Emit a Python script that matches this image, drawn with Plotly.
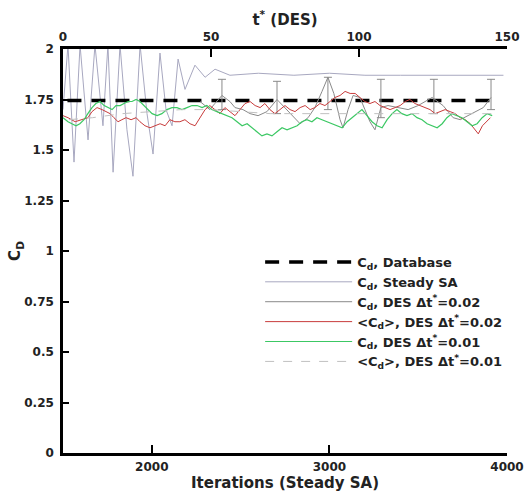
import plotly.graph_objects as go

# ---------------- data ----------------
# Database value (constant)
db_t = [1.5, 147]
db_cd = [1.745, 1.745]

# Steady SA (vs iterations)
sa_it = [1500, 1528, 1562, 1596, 1641, 1680, 1725, 1753, 1782, 1821, 1860, 1894,
         1934, 1973, 2007, 2046, 2080, 2114, 2148, 2187, 2243, 2300, 2356, 2440,
         2600, 2800, 3000, 3200, 3400, 3600, 3800, 3980]
sa_cd = [1.70, 2.02, 1.44, 2.02, 1.55, 2.02, 1.62, 2.02, 1.39, 2.02, 1.60, 1.37,
         2.02, 1.68, 1.48, 1.98, 1.70, 1.62, 1.95, 1.80, 1.92, 1.86, 1.90, 1.87,
         1.88, 1.87, 1.88, 1.87, 1.87, 1.87, 1.87, 1.87]

# C_d, DES dt*=0.02 (grey, with error bars)  -- vs t*
g_t = [46.3, 48.0, 49.6, 51.3, 53.7, 56.4, 58.1, 60.8, 63.2, 65.9, 68.9, 72.3,
       75.0, 77.4, 80.1, 82.8, 85.1, 87.5, 89.5, 91.5, 93.6, 94.6, 96.3, 98.0,
       100.3, 102.0, 103.7, 105.4, 107.4, 109.8, 113.2, 116.6, 120.0, 124.7,
       128.4, 131.8, 134.2, 136.9, 139.6, 142.0, 144.6]
g_cd = [1.74, 1.72, 1.70, 1.73, 1.77, 1.74, 1.71, 1.70, 1.68, 1.67, 1.69, 1.75,
        1.71, 1.67, 1.63, 1.66, 1.71, 1.79, 1.86, 1.78, 1.65, 1.61, 1.70, 1.77,
        1.76, 1.70, 1.64, 1.60, 1.71, 1.72, 1.71, 1.70, 1.72, 1.76, 1.72, 1.66,
        1.65, 1.67, 1.69, 1.71, 1.76]

# error bars on the DES dt*=0.02 signal
err_t = [53.7, 72.3, 89.5, 107.4, 125.3, 144.6]
err_hi = [1.85, 1.84, 1.86, 1.85, 1.85, 1.85]
err_lo = [1.70, 1.68, 1.70, 1.66, 1.68, 1.70]

# <C_d>, DES dt*=0.02 (red)
r_t = [0.0, 1.7, 4.1, 6.4, 8.4, 9.8, 11.5, 13.2, 14.5, 15.9, 17.2, 18.6, 19.9,
       21.3, 23.0, 24.7, 26.0, 27.7, 29.4, 31.1, 32.8, 34.5, 36.1, 37.8, 39.5,
       41.2, 42.9, 44.6, 46.3, 48.0, 49.6, 51.3, 53.0, 54.7, 56.4, 58.1, 59.8,
       61.5, 63.2, 64.9, 66.6, 68.2, 69.9, 71.6, 73.3, 75.0, 76.7, 78.4, 80.1,
       81.8, 83.5, 85.1, 86.8, 88.5, 90.2, 91.9, 93.6, 95.3, 97.0, 98.7, 100.3,
       102.0, 103.7, 105.4, 107.1, 108.8, 110.5, 112.2, 113.9, 115.6, 117.2,
       118.9, 120.6, 122.3, 124.0, 125.7, 127.4, 129.1, 130.8, 132.5, 134.2,
       135.9, 137.6, 139.3, 140.3, 141.7, 143.0, 144.4]
r_cd = [1.67, 1.66, 1.64, 1.65, 1.66, 1.69, 1.71, 1.70, 1.69, 1.68, 1.66, 1.64,
        1.65, 1.66, 1.65, 1.66, 1.64, 1.62, 1.61, 1.62, 1.63, 1.62, 1.65, 1.64,
        1.64, 1.65, 1.63, 1.62, 1.66, 1.70, 1.72, 1.70, 1.68, 1.71, 1.69, 1.67,
        1.70, 1.73, 1.74, 1.72, 1.71, 1.73, 1.70, 1.68, 1.70, 1.72, 1.70, 1.69,
        1.71, 1.72, 1.70, 1.71, 1.73, 1.72, 1.74, 1.76, 1.77, 1.79, 1.78, 1.78,
        1.76, 1.74, 1.73, 1.74, 1.72, 1.71, 1.70, 1.71, 1.72, 1.74, 1.75, 1.73,
        1.72, 1.71, 1.70, 1.68, 1.69, 1.70, 1.69, 1.68, 1.66, 1.65, 1.63, 1.60,
        1.58, 1.62, 1.64, 1.66]

# C_d, DES dt*=0.01 (green)
gr_t = [0.0, 1.7, 3.0, 4.4, 5.7, 7.1, 8.4, 9.8, 11.1, 12.5, 13.9, 15.2, 16.6,
        17.9, 19.3, 20.6, 22.0, 23.3, 24.7, 26.0, 27.4, 28.7, 30.1, 31.8, 33.4,
        35.1, 36.8, 38.5, 40.2, 41.9, 43.6, 45.3, 47.0, 48.6, 50.3, 52.0, 53.7,
        55.4, 57.1, 58.8, 60.5, 62.2, 63.9, 65.5, 67.2, 68.9, 70.6, 72.3, 74.0,
        75.7, 77.4, 79.1, 80.7, 82.4, 84.1, 85.8, 87.5, 89.2, 90.9, 92.6, 94.3,
        96.0, 97.6, 99.3, 101.0, 102.7, 104.4, 106.1, 107.8, 109.5, 111.2, 112.8,
        114.5, 116.2, 117.9, 119.6, 121.3, 123.0, 124.7, 126.4, 128.1, 129.7,
        131.4, 133.1, 134.8, 136.5, 138.2, 139.9, 141.6, 143.3, 145.0]
gr_cd = [1.66, 1.64, 1.63, 1.62, 1.63, 1.65, 1.68, 1.71, 1.73, 1.74, 1.72, 1.71,
         1.70, 1.72, 1.72, 1.73, 1.74, 1.74, 1.75, 1.74, 1.72, 1.70, 1.68, 1.67,
         1.68, 1.70, 1.71, 1.71, 1.70, 1.71, 1.72, 1.72, 1.71, 1.72, 1.70, 1.69,
         1.68, 1.67, 1.66, 1.64, 1.62, 1.63, 1.61, 1.59, 1.57, 1.58, 1.57, 1.59,
         1.61, 1.60, 1.61, 1.62, 1.64, 1.65, 1.64, 1.66, 1.65, 1.64, 1.63, 1.62,
         1.61, 1.64, 1.66, 1.68, 1.70, 1.67, 1.64, 1.62, 1.61, 1.65, 1.68, 1.70,
         1.68, 1.67, 1.68, 1.66, 1.65, 1.63, 1.62, 1.61, 1.63, 1.66, 1.68, 1.67,
         1.66, 1.64, 1.62, 1.63, 1.66, 1.68, 1.67, 1.66]

# <C_d>, DES dt*=0.01 (light grey dashed)
ag_t = [2, 10, 20, 30, 40, 50, 60, 70, 80, 90, 100, 110, 120, 130, 140, 145]
ag_cd = [1.65, 1.66, 1.68, 1.69, 1.70, 1.70, 1.69, 1.68, 1.68, 1.68, 1.68,
         1.68, 1.68, 1.68, 1.68, 1.68]

y_ticks = [0, 0.25, 0.5, 0.75, 1, 1.25, 1.5, 1.75, 2]
y_ticktext = ["0", "0.25", "0.5", "0.75", "1", "1.25", "1.5", "1.75", "2"]
it_ticks = [2000, 3000, 4000]
t_ticks = [0, 50, 100, 150]

# ---------------- figure ----------------
FONT = "DejaVu Sans, sans-serif"
TXT = "#222"
fig = go.Figure()

fig.add_trace(go.Scatter(x=db_t, y=db_cd, xaxis="x2", mode="lines",
                         line=dict(color="black", width=3.5, dash="14px,10px"),
                         name="C<sub>d</sub>, Database"))
fig.add_trace(go.Scatter(x=sa_it, y=sa_cd, xaxis="x", mode="lines",
                         line=dict(color="#a8a8c0", width=1),
                         name="C<sub>d</sub>, Steady SA"))
fig.add_trace(go.Scatter(x=g_t, y=g_cd, xaxis="x2", mode="lines",
                         line=dict(color="#8a8a8a", width=1),
                         name="C<sub>d</sub>, DES Δt<sup>*</sup>=0.02"))
fig.add_trace(go.Scatter(
    x=err_t, y=[(h + l) / 2 for h, l in zip(err_hi, err_lo)], xaxis="x2",
    mode="markers", marker=dict(size=1, color="rgba(0,0,0,0)"),
    error_y=dict(type="data", array=[(h - l) / 2 for h, l in zip(err_hi, err_lo)],
                 color="#8a8a8a", thickness=1, width=4),
    showlegend=False, hoverinfo="skip"))
fig.add_trace(go.Scatter(x=r_t, y=r_cd, xaxis="x2", mode="lines",
                         line=dict(color="#c83c3c", width=1),
                         name="&lt;C<sub>d</sub>&gt;, DES Δt<sup>*</sup>=0.02"))
fig.add_trace(go.Scatter(x=gr_t, y=gr_cd, xaxis="x2", mode="lines",
                         line=dict(color="#3cc864", width=1.2),
                         name="C<sub>d</sub>, DES Δt<sup>*</sup>=0.01"))
fig.add_trace(go.Scatter(x=ag_t, y=ag_cd, xaxis="x2", mode="lines",
                         line=dict(color="#c0c0c0", width=1, dash="dash"),
                         name="&lt;C<sub>d</sub>&gt;, DES Δt<sup>*</sup>=0.01"))

axis_common = dict(showline=True, linecolor="black", linewidth=2.5,
                   ticks="inside", tickcolor="black", tickwidth=2,
                   showgrid=False, zeroline=False, automargin=False,
                   tickfont=dict(size=12, color=TXT, family=FONT, weight="bold"))

fig.update_layout(
    width=524, height=498,
    margin=dict(l=63, r=17, t=49, b=45),
    paper_bgcolor="white", plot_bgcolor="white",
    font=dict(family=FONT, color=TXT, size=12, weight="bold"),
    xaxis=dict(range=[1500, 4000], tickvals=it_ticks, ticklen=8,
               ticklabelstandoff=1, ticklabeloverflow="allow",
               title=dict(text="Iterations (Steady SA)", standoff=5,
                          font=dict(size=15, family=FONT, weight="bold")),
               **axis_common),
    xaxis2=dict(range=[0, 150], tickvals=t_ticks, ticklen=8, overlaying="x",
                side="top", anchor="y", ticklabelstandoff=0,
                ticklabeloverflow="allow",
                title=dict(text="t<sup>*</sup> (DES)", standoff=2,
                           font=dict(size=15, family=FONT, weight="bold")),
                **axis_common),
    yaxis=dict(range=[0, 2], tickvals=y_ticks, ticktext=y_ticktext, ticklen=6,
               ticklabelstandoff=4,
               title=dict(text="C<sub>D</sub>", standoff=0,
                          font=dict(size=15, family=FONT, weight="bold")),
               **axis_common),
    legend=dict(x=0.444, y=0.51, xanchor="left", yanchor="top",
                bgcolor="rgba(0,0,0,0)", itemwidth=87,
                font=dict(size=13, family=FONT, weight="bold", color=TXT),
                tracegroupgap=0),
    showlegend=True,
)

# remove the default 8px page margin so the figure fills the window exactly
fig.write_html("out.html",
               config={"displayModeBar": False},
               post_script="document.body.style.margin='0';"
                           "document.body.style.overflow='hidden';")
